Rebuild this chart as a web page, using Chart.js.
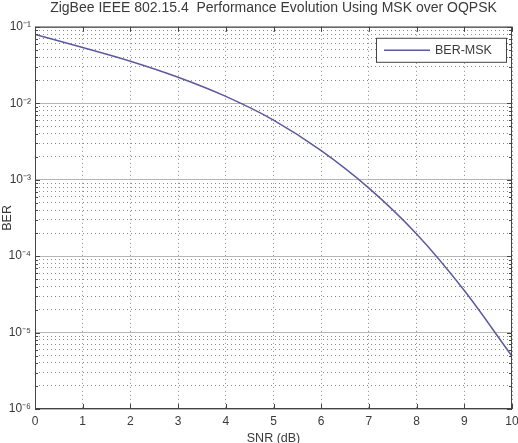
<!DOCTYPE html>
<html>
<head>
<meta charset="utf-8">
<script src="https://cdn.jsdelivr.net/npm/chart.js@4.4.1/dist/chart.umd.min.js"></script>
<style>
  html, body { margin: 0; padding: 0; background: #fff; }
</style>
</head>
<body>
<canvas id="chart" width="518" height="443"></canvas>
<script>
// data
const snrDb = [0, 1, 2, 3, 4, 5, 6, 7, 8, 9, 10];
const berMsk = [0.0794, 0.0537, 0.0355, 0.0219, 0.0123, 0.00603, 0.0024, 0.000776, 0.000195, 0.0000355, 0.0000049];
const xTicks = [0, 1, 2, 3, 4, 5, 6, 7, 8, 9, 10];
const yDecades = [1e-6, 1e-5, 1e-4, 1e-3, 1e-2, 1e-1];
const yDecadeLabels = ['10⁻⁶', '10⁻⁵', '10⁻⁴', '10⁻³', '10⁻²', '10⁻¹'];

const FONT = "'Liberation Sans', Arial, sans-serif";
const TEXT = '#3a3a3a';

// all minor grid positions 1..9 x 10^k
const yMinor = [];
yDecades.slice(0, -1).forEach(d => {
    for (let m = 1; m <= 9; m++) yMinor.push(d * m);
});
yMinor.push(yDecades[yDecades.length - 1]);

const isDecade = v => yDecades.some(d => Math.abs(v / d - 1) < 1e-6);

const framePlugin = {
    id: 'frame',
    afterDraw(chart) {
        const { ctx, chartArea: a, scales } = chart;
        ctx.save();
        ctx.strokeStyle = '#444';
        ctx.lineWidth = 1;
        ctx.strokeRect(a.left + 0.5, a.top + 0.5, a.width - 1, a.height - 1);
        ctx.beginPath();
        scales.x.ticks.forEach(t => {
            const px = Math.round(scales.x.getPixelForValue(t.value)) + 0.5;
            ctx.moveTo(px, a.bottom); ctx.lineTo(px, a.bottom - 5);
            ctx.moveTo(px, a.top); ctx.lineTo(px, a.top + 5);
        });
        scales.y.ticks.forEach(t => {
            const py = Math.round(scales.y.getPixelForValue(t.value)) + 0.5;
            const len = isDecade(t.value) ? 5 : 3;
            ctx.moveTo(a.left, py); ctx.lineTo(a.left + len, py);
            ctx.moveTo(a.right, py); ctx.lineTo(a.right - len, py);
        });
        ctx.stroke();
        ctx.restore();
    }
};

const legendPlugin = {
    id: 'boxLegend',
    afterDraw(chart) {
        const { ctx, chartArea: a } = chart;
        const ds = chart.data.datasets[0];
        const w = 130, h = 24;
        const x = a.right - 6 - w, y = a.top + 11;
        ctx.save();
        ctx.fillStyle = '#fff';
        ctx.fillRect(x, y, w, h);
        ctx.strokeStyle = '#444';
        ctx.lineWidth = 1;
        ctx.strokeRect(x + 0.5, y + 0.5, w, h);
        ctx.strokeStyle = ds.borderColor;
        ctx.lineWidth = ds.borderWidth;
        ctx.beginPath();
        ctx.moveTo(x + 8, y + h / 2 + 0.5);
        ctx.lineTo(x + 54, y + h / 2 + 0.5);
        ctx.stroke();
        ctx.fillStyle = TEXT;
        ctx.font = '12.5px ' + FONT;
        ctx.textBaseline = 'middle';
        ctx.fillText(ds.label, x + 59, y + h / 2 + 1);
        ctx.restore();
    }
};

new Chart(document.getElementById('chart'), {
    type: 'line',
    data: {
        datasets: [{
            label: 'BER-MSK',
            data: snrDb.map((s, i) => ({ x: s, y: berMsk[i] })),
            borderColor: '#5b5b9e',
            borderWidth: 1.5,
            pointRadius: 0,
            cubicInterpolationMode: 'monotone',
            fill: false
        }]
    },
    options: {
        responsive: false,
        animation: false,
        layout: { padding: { left: 0, right: 6, top: 0, bottom: 0 } },
        plugins: {
            legend: { display: false },
            tooltip: { enabled: false },
            title: {
                display: true,
                fullSize: false,
                text: 'ZigBee IEEE 802.15.4  Performance Evolution Using MSK over OQPSK',
                color: TEXT,
                font: { family: FONT, size: 14, weight: 'normal' },
                padding: { top: 0, bottom: 10 }
            }
        },
        scales: {
            x: {
                type: 'linear',
                min: 0,
                max: 10,
                afterBuildTicks: s => { s.ticks = xTicks.map(v => ({ value: v })); },
                afterFit: s => { s.height = 34; s.paddingRight = 0; s.paddingLeft = 0; },
                ticks: { autoSkip: false, maxRotation: 0, color: TEXT, font: { family: FONT, size: 12 }, padding: 5 },
                grid: { color: '#8a8a8a', lineWidth: 1, drawTicks: false },
                border: { display: false, dash: [1, 3] },
                title: { display: true, text: 'SNR (dB)', color: TEXT, font: { family: FONT, size: 12.5 }, padding: { top: 0, bottom: -3 } }
            },
            y: {
                type: 'logarithmic',
                min: 1e-6,
                max: 1e-1,
                afterBuildTicks: s => { s.ticks = yMinor.map(v => ({ value: v })); },
                afterFit: s => { s.width = 35; },
                ticks: {
                    autoSkip: false,
                    color: TEXT,
                    font: { family: FONT, size: 12 },
                    padding: 4,
                    callback: v => {
                        const i = yDecades.findIndex(d => Math.abs(v / d - 1) < 1e-6);
                        return i >= 0 ? yDecadeLabels[i] : '';
                    }
                },
                grid: { color: '#8a8a8a', lineWidth: 1, drawTicks: false },
                border: { display: false, dash: [1, 3] },
                title: { display: true, text: 'BER', color: TEXT, font: { family: FONT, size: 12.5 }, padding: 0 }
            },
            yMajor: {
                type: 'logarithmic',
                position: 'left',
                min: 1e-6,
                max: 1e-1,
                afterBuildTicks: s => { s.ticks = yDecades.map(v => ({ value: v })); },
                afterFit: s => { s.width = 0; },
                ticks: { display: false },
                grid: { color: '#b5b5b5', lineWidth: 1, drawTicks: false },
                border: { display: false }
            }
        }
    },
    plugins: [framePlugin, legendPlugin]
});
</script>
</body>
</html>
